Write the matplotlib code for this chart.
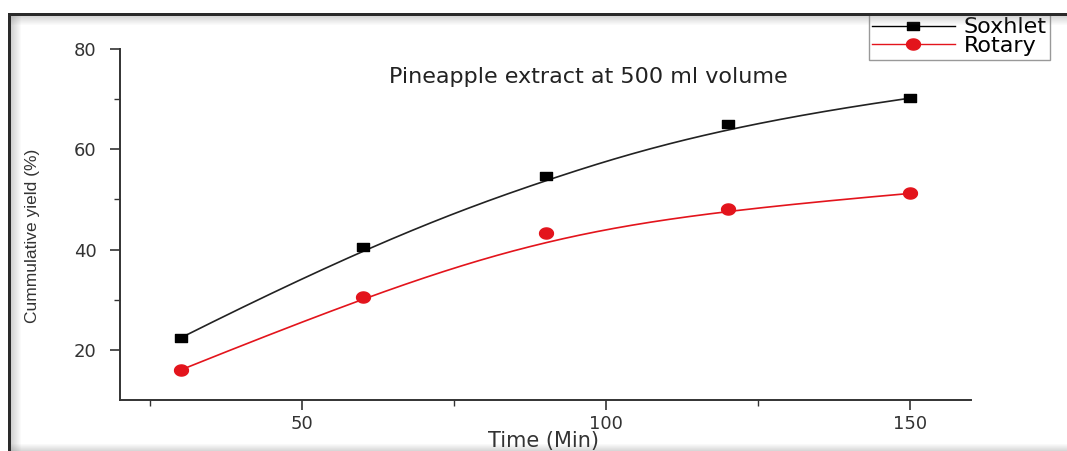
import numpy as np
import matplotlib
matplotlib.use('Agg')
import matplotlib.pyplot as plt
from matplotlib.patches import Rectangle
from matplotlib.path import Path

# data
time_min = [30, 60, 90, 120, 150]
soxhlet = [22.4, 40.6, 54.6, 65.0, 70.2]
rotary = [16.0, 30.6, 43.4, 48.0, 51.2]


# clamped cubic B-spline with the data as control points (Origin style line)
def bspline(xs, ys, n=200, k=3):
    ctrl = np.column_stack([xs, ys]).astype(float)
    m = len(ctrl)
    inner = np.linspace(0, 1, m - k + 1)
    knots = np.concatenate([[0] * k, inner, [1] * k])
    t = np.linspace(0, 1, n)
    t[-1] = 1 - 1e-10

    def basis(i, d, t):
        if d == 0:
            return ((knots[i] <= t) & (t < knots[i + 1])).astype(float)
        a = 0.0
        b = 0.0
        if knots[i + d] != knots[i]:
            a = (t - knots[i]) / (knots[i + d] - knots[i]) * basis(i, d - 1, t)
        if knots[i + d + 1] != knots[i + 1]:
            b = (knots[i + d + 1] - t) / (knots[i + d + 1] - knots[i + 1]) * basis(i + 1, d - 1, t)
        return a + b

    pts = np.zeros((n, 2))
    for i in range(m):
        pts += basis(i, k, t)[:, None] * ctrl[i]
    return pts[:, 0], pts[:, 1]


plt.rcParams['font.family'] = ['DejaVu Sans']
W, H = 1067, 451
fig = plt.figure(figsize=(W / 100, H / 100), dpi=100)
ax = fig.add_axes([120 / W, 51 / H, 851 / W, 351 / H])

# wide square marker (the picture is stretched sideways)
wide_sq = Path([(-1.5, -1), (1.5, -1), (1.5, 1), (-1.5, 1), (-1.5, -1)],
               [Path.MOVETO, Path.LINETO, Path.LINETO, Path.LINETO, Path.CLOSEPOLY])
theta = np.linspace(0, 2 * np.pi, 40)
wide_dot = Path(np.column_stack([1.25 * np.cos(theta), np.sin(theta)]))

red = '#e3141c'
sx, sy = bspline(time_min, soxhlet)
rx, ry = bspline(time_min, rotary)
ax.plot(sx, sy, color='#222222', lw=1.2)
ax.plot(rx, ry, color=red, lw=1.2)
ax.plot(time_min, soxhlet, marker=wide_sq, color='black', ms=9, ls='none')
ax.plot(time_min, rotary, marker=wide_dot, color=red, ms=10, ls='none')

# legend handles
l1, = ax.plot([], [], '-', marker=wide_sq, color='black', lw=1.0, ms=8)
l2, = ax.plot([], [], '-', marker=wide_dot, color=red, lw=1.0, ms=10)
leg = ax.legend([l1, l2], ['Soxhlet', 'Rotary'], loc='upper left',
                bbox_to_anchor=(869 / W, 1 - 14 / H), bbox_transform=fig.transFigure,
                fontsize=16, frameon=True, fancybox=False, framealpha=1,
                edgecolor='#999999', borderpad=0.15, borderaxespad=0,
                labelspacing=-0.05, handlelength=3.7, handletextpad=0.4)
leg.get_frame().set_linewidth(1.0)

ax.set_xlim(20, 160)
ax.set_ylim(10, 80)
ax.set_xticks([50, 100, 150])
ax.set_xticks([25, 75, 125], minor=True)
ax.set_yticks([20, 40, 60, 80])
ax.set_yticks([30, 50, 70], minor=True)
for s in ['top', 'right']:
    ax.spines[s].set_visible(False)
for s in ['left', 'bottom']:
    ax.spines[s].set_linewidth(1.4)
    ax.spines[s].set_color('#333333')
ax.tick_params(which='major', direction='out', length=7, width=1.2, colors='#333333',
               labelsize=13, labelcolor='#333333')
ax.tick_params(which='minor', direction='out', length=4, width=1.0, colors='#333333')
ax.tick_params(axis='y', which='major', pad=10)
ax.tick_params(axis='x', which='major', pad=4)

fig.text(33 / W, 1 - 236 / H, 'Cummulative yield (%)', fontsize=12.5,
         family='Liberation Sans', color='#333333', rotation=90,
         ha='center', va='center')
fig.text(543 / W, 1 - 441 / H, 'Time (Min)', fontsize=15, color='#333333',
         ha='center', va='center')
fig.text(588 / W, 1 - 77 / H, 'Pineapple extract at 500 ml volume', fontsize=16,
         color='#222222', ha='center', va='center')

# screenshot frame: dark border top/left with soft shadow, light band at bottom
for i in range(10):
    a = 0.35 * (1 - i / 10)
    fig.add_artist(Rectangle(((11 + i) / W, 0), 1 / W, 1 - 14 / H, transform=fig.transFigure,
                             color='gray', alpha=a, lw=0))
    fig.add_artist(Rectangle((8 / W, 1 - (16 + i) / H), 1, 1 / H, transform=fig.transFigure,
                             color='gray', alpha=a, lw=0))
for i in range(7):
    fig.add_artist(Rectangle((8 / W, i / H), 1, 1 / H, transform=fig.transFigure,
                             color='gray', alpha=0.3 * (1 - i / 7), lw=0))
fig.add_artist(Rectangle((8 / W, 0), 3 / W, 1 - 13 / H, transform=fig.transFigure,
                         color='#2a2a2a', lw=0))
fig.add_artist(Rectangle((8 / W, 1 - 16 / H), 1, 3 / H, transform=fig.transFigure,
                         color='#2a2a2a', lw=0))

fig.savefig('out.png', dpi=100)
